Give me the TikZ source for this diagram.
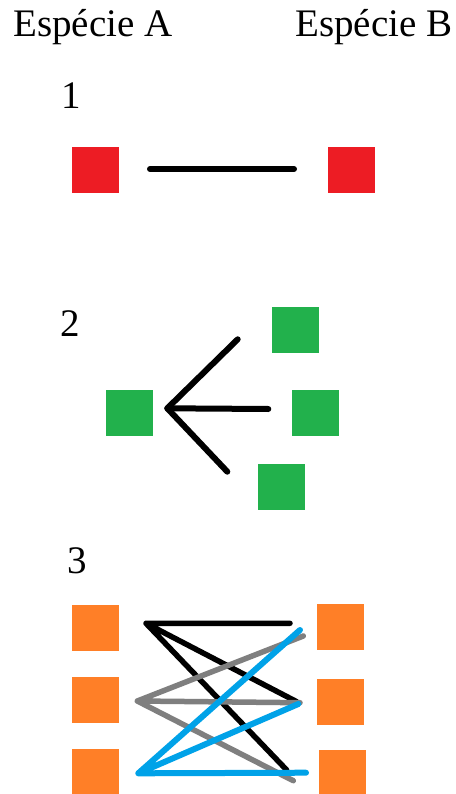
\documentclass[tikz,border=0pt]{standalone}
\usepackage{fontspec}
\setmainfont{Liberation Serif}
\definecolor{pred}{HTML}{ED1C24}
\definecolor{pgreen}{HTML}{22B14C}
\definecolor{porange}{HTML}{FF7F27}
\definecolor{pgray}{HTML}{7F7F7F}
\definecolor{pblue}{HTML}{00A2E8}
\begin{document}
\begin{tikzpicture}[x=1pt,y=-1pt,
  sq/.style={rectangle,minimum width=47pt,minimum height=46pt,inner sep=0pt,draw=none},
  lbl/.style={anchor=base west,inner sep=0pt,font=\fontsize{39}{42}\selectfont},
  lnk/.style={line width=6pt,line cap=round,line join=round}]
\useasboundingbox (0,0) rectangle (455,794);
\fill[white] (0,0) rectangle (455,794);
% headings
\node[lbl] (ha) at (13,37) {Espécie A};
\node[lbl] (hb) at (295,37) {Espécie B};
\node[lbl] (n1) at (61,109) {1};
\node[lbl] (n2) at (60.5,336) {2};
\node[lbl] (n3) at (67.5,573) {3};
% section 1
\node[sq,fill=pred] (r1) at (95.5,170) {};
\node[sq,fill=pred] (r2) at (351.5,170) {};
\coordinate (l1a) at (150,169);
\coordinate (l1b) at (294,169);
\draw[lnk] (l1a) -- (l1b);
% section 2
\node[sq,fill=pgreen] (g0) at (129,413.3) {};
\node[sq,fill=pgreen] (g1) at (295,329.7) {};
\node[sq,fill=pgreen] (g2) at (315,413.3) {};
\node[sq,fill=pgreen] (g3) at (281.7,486.7) {};
\coordinate (v) at (167.3,408.3);
\coordinate (e1) at (237.7,339.3);
\coordinate (e2) at (268.3,409);
\coordinate (e3) at (227.3,471.7);
\draw[lnk] (e1) -- (v) -- (e3);
\draw[lnk] (v) -- (e2);
% section 3
\node[sq,fill=porange] (oa1) at (95.3,628.3) {};
\node[sq,fill=porange] (oa2) at (95.3,700.3) {};
\node[sq,fill=porange] (oa3) at (95.3,772) {};
\node[sq,fill=porange] (ob1) at (340.8,627.3) {};
\node[sq,fill=porange] (ob2) at (340.8,701.6) {};
\node[sq,fill=porange] (ob3) at (342.3,773) {};
\coordinate (ka) at (146,623.3);
\coordinate (k1) at (290,623.3);
\coordinate (k2) at (296.7,701.7);
\coordinate (k3) at (286.7,770);
\coordinate (ga) at (137.3,701);
\coordinate (g1e) at (303.3,636);
\coordinate (g2e) at (300,702.7);
\coordinate (g3e) at (293.3,780.7);
\coordinate (ba) at (138.3,773.3);
\coordinate (b1) at (300,630);
\coordinate (b2) at (298.3,704);
\coordinate (b3) at (306,772.7);
\draw[lnk,line width=5.5pt] (ka) -- (k1) (ka) -- (k2) (ka) -- (k3);
\draw[lnk,line width=5.5pt,pgray] (ga) -- (g1e) (ga) -- (g2e) (ga) -- (g3e);
\draw[lnk,pblue] (ba) -- (b1) (ba) -- (b2) (ba) -- (b3);
\end{tikzpicture}
\end{document}
